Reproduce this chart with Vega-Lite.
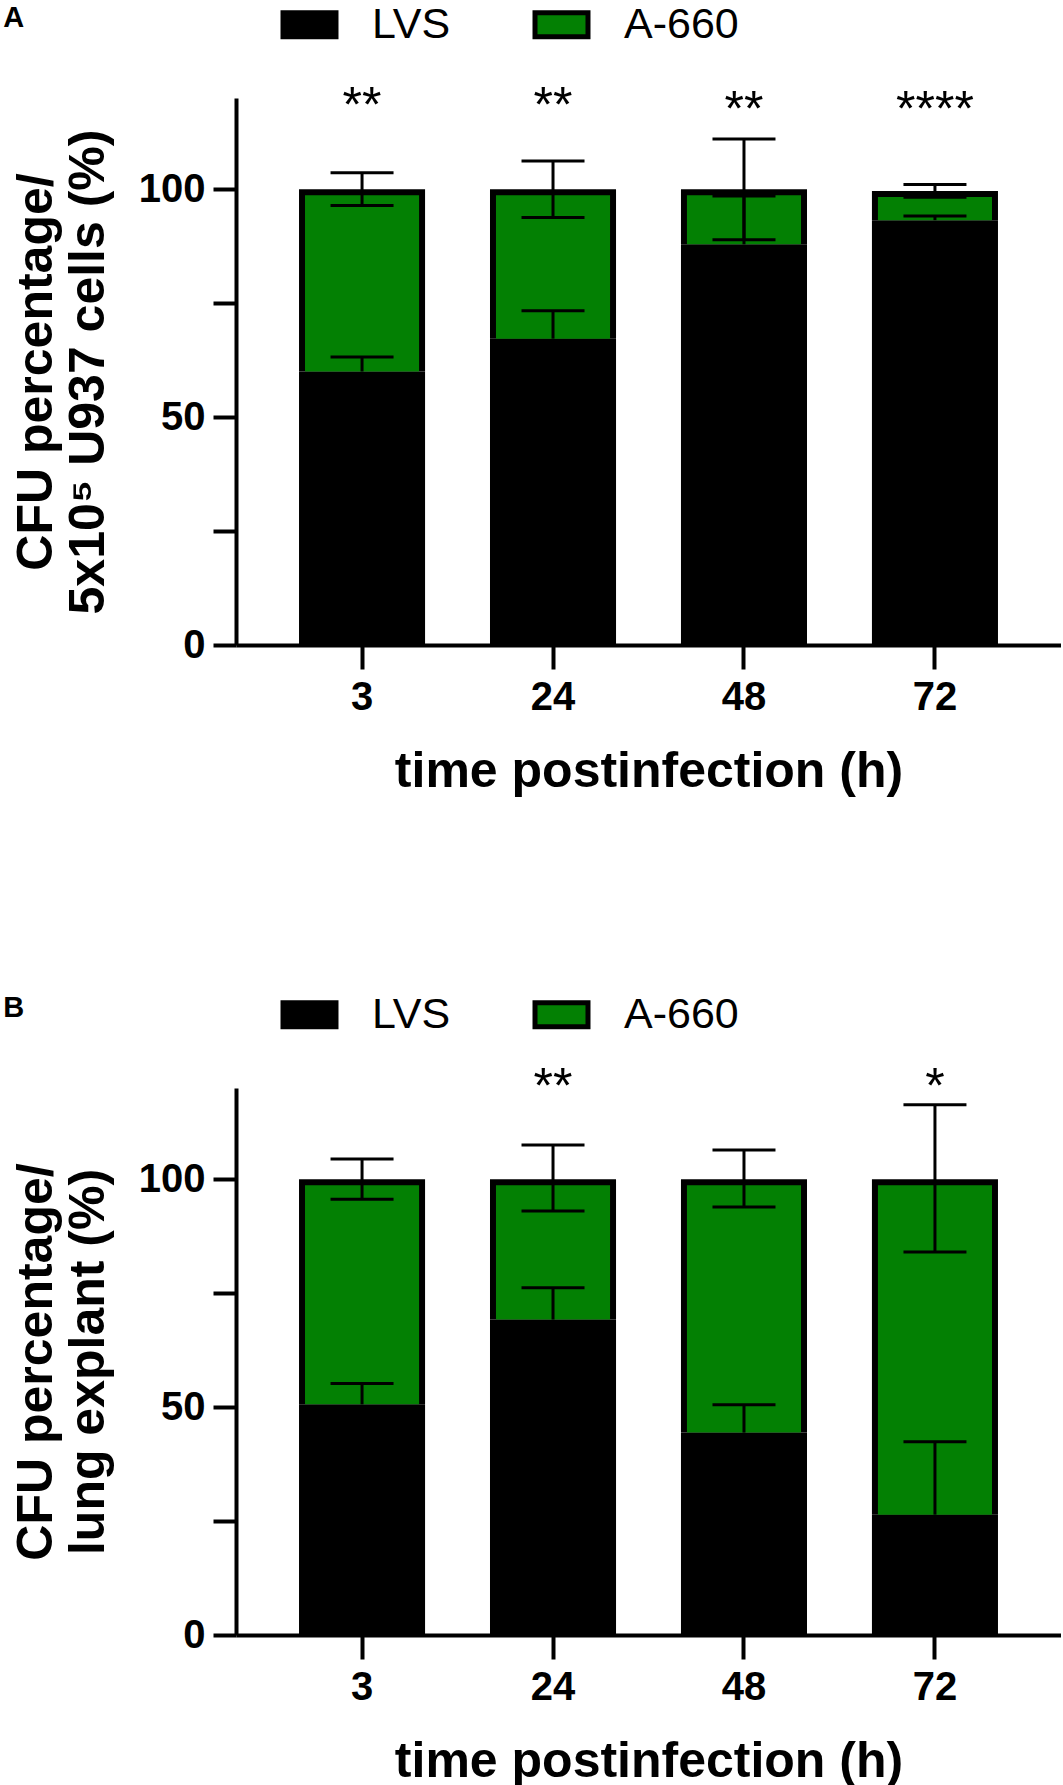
{
  "$schema": "https://vega.github.io/schema/vega-lite/v6.json",
  "background": "white",
  "padding": {"left": 3, "top": 3, "right": 0, "bottom": 0},
  "spacing": 197,
  "datasets": {
    "barsA": [
      {"time": "3", "strain": "LVS", "y": 60.0, "y2": 0},
      {"time": "3", "strain": "A-660", "y": 100.0, "y2": 60.0},
      {"time": "24", "strain": "LVS", "y": 67.2, "y2": 0},
      {"time": "24", "strain": "A-660", "y": 100.0, "y2": 67.2},
      {"time": "48", "strain": "LVS", "y": 87.9, "y2": 0},
      {"time": "48", "strain": "A-660", "y": 100.0, "y2": 87.9},
      {"time": "72", "strain": "LVS", "y": 93.2, "y2": 0},
      {"time": "72", "strain": "A-660", "y": 99.6, "y2": 93.2}
    ],
    "errA": [
      {"time": "3", "y": 96.4, "y2": 103.6},
      {"time": "3", "y": 60.0, "y2": 63.2},
      {"time": "24", "y": 93.8, "y2": 106.2},
      {"time": "24", "y": 67.2, "y2": 73.3},
      {"time": "48", "y": 88.9, "y2": 111.0},
      {"time": "48", "y": 87.9, "y2": 98.5},
      {"time": "72", "y": 98.2, "y2": 101.0},
      {"time": "72", "y": 93.2, "y2": 94.1}
    ],
    "capsA": [
      {"time": "3", "y": 103.6}, {"time": "3", "y": 96.4}, {"time": "3", "y": 63.2},
      {"time": "24", "y": 106.2}, {"time": "24", "y": 93.8}, {"time": "24", "y": 73.3},
      {"time": "48", "y": 111.0}, {"time": "48", "y": 88.9}, {"time": "48", "y": 98.5},
      {"time": "72", "y": 101.0}, {"time": "72", "y": 98.2}, {"time": "72", "y": 94.1}
    ],
    "starsA": [
      {"time": "3", "y": 114.8, "label": "**"},
      {"time": "24", "y": 114.8, "label": "**"},
      {"time": "48", "y": 113.9, "label": "**"},
      {"time": "72", "y": 113.9, "label": "****"}
    ],
    "barsB": [
      {"time": "3", "strain": "LVS", "y": 50.6, "y2": 0},
      {"time": "3", "strain": "A-660", "y": 100.0, "y2": 50.6},
      {"time": "24", "strain": "LVS", "y": 69.2, "y2": 0},
      {"time": "24", "strain": "A-660", "y": 100.0, "y2": 69.2},
      {"time": "48", "strain": "LVS", "y": 44.4, "y2": 0},
      {"time": "48", "strain": "A-660", "y": 100.0, "y2": 44.4},
      {"time": "72", "strain": "LVS", "y": 26.4, "y2": 0},
      {"time": "72", "strain": "A-660", "y": 100.0, "y2": 26.4}
    ],
    "errB": [
      {"time": "3", "y": 95.6, "y2": 104.4},
      {"time": "3", "y": 50.6, "y2": 55.2},
      {"time": "24", "y": 93.0, "y2": 107.5},
      {"time": "24", "y": 69.2, "y2": 76.2},
      {"time": "48", "y": 93.9, "y2": 106.4},
      {"time": "48", "y": 44.4, "y2": 50.5},
      {"time": "72", "y": 84.0, "y2": 116.3},
      {"time": "72", "y": 26.4, "y2": 42.4}
    ],
    "capsB": [
      {"time": "3", "y": 104.4}, {"time": "3", "y": 95.6}, {"time": "3", "y": 55.2},
      {"time": "24", "y": 107.5}, {"time": "24", "y": 93.0}, {"time": "24", "y": 76.2},
      {"time": "48", "y": 106.4}, {"time": "48", "y": 93.9}, {"time": "48", "y": 50.5},
      {"time": "72", "y": 116.3}, {"time": "72", "y": 84.0}, {"time": "72", "y": 42.4}
    ],
    "starsB": [
      {"time": "24", "y": 116.7, "label": "**"},
      {"time": "72", "y": 116.7, "label": "*"}
    ]
  },
  "vconcat": [
    {
      "width": 825,
      "height": 547,
      "title": {"text": "A", "anchor": "start", "frame": "bounds", "fontSize": 29, "fontWeight": "bold", "font": "Liberation Sans", "color": "black", "offset": -30, "dx": -8},
      "encoding": {
        "x": {"field": "time", "type": "nominal", "sort": ["3", "24", "48", "72"],
          "scale": {"domain": ["3", "24", "48", "72"], "paddingInner": 0.34, "paddingOuter": 0.33},
          "axis": {"title": "time postinfection (h)", "labelAngle": 0, "tickSize": 24, "labelPadding": 8, "titleFontSize": 50, "titlePadding": 29}},
        "y": {"field": "y", "type": "quantitative",
          "scale": {"domain": [0, 120], "nice": false},
          "axis": {"title": ["CFU percentage/", "5x10⁵ U937 cells (%)"], "values": [0, 25, 50, 75, 100], "labelExpr": "datum.value % 50 === 0 ? datum.label : ''", "tickSize": 23, "labelPadding": 8, "titleFontSize": 50, "titleLineHeight": 52, "titlePadding": 25}}
      },
      "layer": [
        {"data": {"name": "barsA"}, "mark": {"type": "bar", "color": "black"}, "encoding": {"y2": {"field": "y2"}}},
        {"data": {"name": "barsA"}, "transform": [{"filter": "datum.strain === 'A-660'"}],
          "mark": {"type": "bar", "width": {"band": 0.905}, "yOffset": 6},
          "encoding": {"y2": {"field": "y2"},
            "color": {"field": "strain", "type": "nominal",
              "scale": {"domain": ["LVS", "A-660"], "range": ["#000000", "#038003"]},
              "legend": {"orient": "none", "legendX": 52, "legendY": -95, "direction": "horizontal", "title": null,
                "symbolType": "M-2,-0.906H2V0.906H-2Z", "symbolSize": 702, "labelFontSize": 43, "labelFont": "Liberation Sans", "labelColor": "black", "labelOffset": 41, "columnPadding": 74, "symbolOpacity": 1,
                "encode": {"symbols": {"update": {"stroke": {"value": "black"}, "strokeWidth": {"value": 5}}}}}}}},
        {"data": {"name": "errA"}, "mark": {"type": "rule", "color": "black", "strokeWidth": 3}, "encoding": {"y2": {"field": "y2"}}},
        {"data": {"name": "capsA"}, "mark": {"type": "tick", "orient": "horizontal", "size": 63, "thickness": 3, "color": "black", "opacity": 1}, "encoding": {}},
        {"data": {"name": "starsA"}, "mark": {"type": "text", "fontSize": 50, "baseline": "alphabetic", "align": "center", "color": "black", "font": "Liberation Sans"}, "encoding": {"text": {"field": "label"}}}
      ]
    },
    {
      "width": 825,
      "height": 547,
      "title": {"text": "B", "anchor": "start", "frame": "bounds", "fontSize": 29, "fontWeight": "bold", "font": "Liberation Sans", "color": "black", "offset": -30, "dx": -8},
      "encoding": {
        "x": {"field": "time", "type": "nominal", "sort": ["3", "24", "48", "72"],
          "scale": {"domain": ["3", "24", "48", "72"], "paddingInner": 0.34, "paddingOuter": 0.33},
          "axis": {"title": "time postinfection (h)", "labelAngle": 0, "tickSize": 24, "labelPadding": 8, "titleFontSize": 50, "titlePadding": 29}},
        "y": {"field": "y", "type": "quantitative",
          "scale": {"domain": [0, 120], "nice": false},
          "axis": {"title": ["CFU percentage/", "lung explant (%)"], "values": [0, 25, 50, 75, 100], "labelExpr": "datum.value % 50 === 0 ? datum.label : ''", "tickSize": 23, "labelPadding": 8, "titleFontSize": 50, "titleLineHeight": 52, "titlePadding": 25}}
      },
      "layer": [
        {"data": {"name": "barsB"}, "mark": {"type": "bar", "color": "black"}, "encoding": {"y2": {"field": "y2"}}},
        {"data": {"name": "barsB"}, "transform": [{"filter": "datum.strain === 'A-660'"}],
          "mark": {"type": "bar", "width": {"band": 0.905}, "yOffset": 6},
          "encoding": {"y2": {"field": "y2"},
            "color": {"field": "strain", "type": "nominal",
              "scale": {"domain": ["LVS", "A-660"], "range": ["#000000", "#038003"]},
              "legend": {"orient": "none", "legendX": 52, "legendY": -95, "direction": "horizontal", "title": null,
                "symbolType": "M-2,-0.906H2V0.906H-2Z", "symbolSize": 702, "labelFontSize": 43, "labelFont": "Liberation Sans", "labelColor": "black", "labelOffset": 41, "columnPadding": 74, "symbolOpacity": 1,
                "encode": {"symbols": {"update": {"stroke": {"value": "black"}, "strokeWidth": {"value": 5}}}}}}}},
        {"data": {"name": "errB"}, "mark": {"type": "rule", "color": "black", "strokeWidth": 3}, "encoding": {"y2": {"field": "y2"}}},
        {"data": {"name": "capsB"}, "mark": {"type": "tick", "orient": "horizontal", "size": 63, "thickness": 3, "color": "black", "opacity": 1}, "encoding": {}},
        {"data": {"name": "starsB"}, "mark": {"type": "text", "fontSize": 50, "baseline": "alphabetic", "align": "center", "color": "black", "font": "Liberation Sans"}, "encoding": {"text": {"field": "label"}}}
      ]
    }
  ],
  "resolve": {"scale": {"color": "independent"}, "legend": {"color": "independent"}},
  "config": {
    "view": {"stroke": null},
    "font": "Liberation Sans",
    "axis": {"domainColor": "black", "domainWidth": 4, "tickColor": "black", "tickWidth": 4, "labelFont": "Liberation Sans", "labelFontWeight": "bold", "labelFontSize": 40, "labelColor": "black", "titleFont": "Liberation Sans", "titleFontWeight": "bold", "titleFontSize": 48, "titleColor": "black", "grid": false}
  }
}
